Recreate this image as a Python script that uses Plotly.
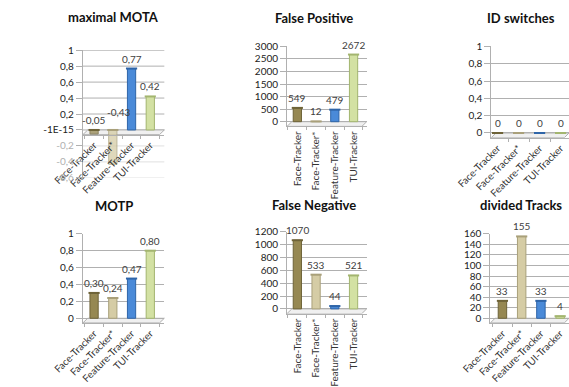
import plotly.graph_objects as go

W, H = 569, 387

# Trackers compared in every panel
categories = ["Face-Tracker", "Face-Tracker*", "Feature-Tracker", "TUI-Tracker"]

# Metric values per tracker
mota = [-0.05, -0.43, 0.77, 0.42]
false_positive = [549, 12, 479, 2672]
id_switches = [0, 0, 0, 0]
motp = [0.30, 0.24, 0.47, 0.80]
false_negative = [1070, 533, 44, 521]
divided_tracks = [33, 155, 33, 4]

# Axis tick values / labels
mota_ticks = [-0.6, -0.4, -0.2, 0, 0.2, 0.4, 0.6, 0.8, 1]
mota_ticktext = ["-0,6", "-0,4", "-0,2", "-1E-15", "0,2", "0,4", "0,6", "0,8", "1"]
unit_ticks = [0, 0.2, 0.4, 0.6, 0.8, 1]
unit_ticktext = ["0", "0,2", "0,4", "0,6", "0,8", "1"]
fp_ticks = [0, 500, 1000, 1500, 2000, 2500, 3000]
fn_ticks = [0, 200, 400, 600, 800, 1000, 1200]
div_ticks = [0, 20, 40, 60, 80, 100, 120, 140, 160]

bar_colors = ["#968852", "#d5cca5", "#4a8ad8", "#d3e1a3"]
edge_colors = ["#6e6338", "#a9a07a", "#2f65a8", "#a3b56f"]

FONT = "Lato, Open Sans, sans-serif"
GRID = "#b0b0b0"
GRID_NEG = "#e0e0e0"
AXIS = "#b0b0b0"
FLOOR_PX = 5


def dec(v):
    return f"{v:.2f}".replace(".", ",")


def px_x(a, b):
    return [a / W, min(b / W, 1.0)]


def px_y(top, bottom):
    return [1 - bottom / H, 1 - top / H]


# ybox = pixel rows of the top tick and of the lowest tick
panels = [
    dict(title="maximal MOTA", values=mota, fmt=dec, ticks=mota_ticks,
         ticktext=mota_ticktext, yrange=[-0.6, 1.0], xbox=(50, 137),
         ybox=(46.7, 182.7), xrange=[-0.6, 3.75], angle=-45, tcenter=(83, 12),
         shifts={1: (6, 8)}),
    dict(title="False Positive", values=false_positive, fmt=str, ticks=fp_ticks,
         ticktext=[str(t) for t in fp_ticks], yrange=[0, 3000], xbox=(268, 353),
         ybox=(42.7, 123), xrange=[-0.55, 3.7], angle=-90, tcenter=(297, 13),
         shifts={}),
    dict(title="ID switches", values=id_switches, fmt=str, ticks=unit_ticks,
         ticktext=unit_ticktext, yrange=[0, 1.0], xbox=(486, 569),
         ybox=(43, 135), xrange=[-0.3, 3.4], angle=-45, tcenter=(518, 13),
         shifts={}),
    dict(title="MOTP", values=motp, fmt=dec, ticks=unit_ticks,
         ticktext=unit_ticktext, yrange=[0, 1.0], xbox=(50, 137),
         ybox=(242, 332), xrange=[-0.6, 3.75], angle=-45, tcenter=(83, 213),
         shifts={}),
    dict(title="False Negative", values=false_negative, fmt=str, ticks=fn_ticks,
         ticktext=[str(t) for t in fn_ticks], yrange=[0, 1200], xbox=(268, 353),
         ybox=(240, 322), xrange=[-0.55, 3.7], angle=-90, tcenter=(297, 212),
         shifts={}),
    dict(title="divided Tracks", values=divided_tracks, fmt=str, ticks=div_ticks,
         ticktext=[str(t) for t in div_ticks], yrange=[0, 160], xbox=(485, 569),
         ybox=(242, 332), xrange=[-0.63, 3.46], angle=-45, tcenter=(518, 212),
         shifts={}),
]

fig = go.Figure()
layout = {}
annotations = []
shapes = []

for i, p in enumerate(panels):
    n = "" if i == 0 else str(i + 1)
    xa, ya = f"x{n}", f"y{n}"
    vals = p["values"]
    lo, hi = p["yrange"]
    top_px, bot_px = p["ybox"]
    per_px = (hi - lo) / (bot_px - top_px)
    floor = FLOOR_PX * per_px
    if lo >= 0:
        # leave room for the floor slab beneath zero
        lo_axis, bot_axis = lo - floor, bot_px + FLOOR_PX
    else:
        lo_axis, bot_axis = lo, bot_px
    ydom = px_y(top_px, bot_axis)

    fig.add_trace(go.Bar(
        x=categories, y=vals, xaxis=xa, yaxis=ya, width=0.44,
        marker=dict(color=bar_colors, line=dict(color=edge_colors, width=1),
                    opacity=[0.75 if v < 0 else 1.0 for v in vals]),
        hoverinfo="skip",
    ))
    # cylinder caps at the bar tops
    fig.add_trace(go.Scatter(
        x=categories, y=[max(v, 0) for v in vals], xaxis=xa, yaxis=ya,
        mode="markers", cliponaxis=False, hoverinfo="skip",
        marker=dict(symbol="line-ew", size=8,
                    line=dict(color=edge_colors, width=2)),
    ))
    # value labels above each bar
    for j, (c, v) in enumerate(zip(categories, vals)):
        dx, dy = p["shifts"].get(j, (0, 0))
        annotations.append(dict(
            text=p["fmt"](v), x=c, y=max(v, 0), xref=xa, yref=ya,
            xanchor="center", yanchor="bottom", showarrow=False,
            xshift=dx, yshift=2 + dy,
            font=dict(family=FONT, size=10, color="#404040"),
        ))

    xaxis = dict(
        domain=px_x(*p["xbox"]), anchor=ya, type="category",
        range=p["xrange"], tickangle=p["angle"], showgrid=False,
        showline=True, linecolor=AXIS, ticks="outside", ticklen=3,
        tickcolor=AXIS, tickson="boundaries", zeroline=False,
        tickfont=dict(family=FONT, size=10, color="#333333"),
    )
    ticktext = list(p["ticktext"])
    if lo < 0:
        # category labels hang from the floor at zero
        xaxis["anchor"] = "free"
        xaxis["position"] = ydom[0] + (-floor - lo) / (hi - lo) * (ydom[1] - ydom[0])
        ticktext = [f'<span style="color:#b0b0b0">{t}</span>' if v < 0 else t
                    for v, t in zip(p["ticks"], ticktext)]
        for v in p["ticks"]:
            shapes.append(dict(
                type="line", xref=f"{xa} domain", yref=ya, x0=0, x1=1,
                y0=v, y1=v, layer="below",
                line=dict(color=GRID_NEG if v < 0 else GRID, width=1),
            ))
    layout[f"xaxis{n}"] = xaxis
    layout[f"yaxis{n}"] = dict(
        domain=ydom, anchor=xa, range=[lo_axis, hi + (hi - lo) * 0.002],
        tickvals=p["ticks"], ticktext=ticktext, showgrid=lo >= 0,
        gridcolor=GRID, gridwidth=1, showline=True, linecolor=AXIS,
        ticks="outside", ticklen=6, tickcolor=AXIS, zeroline=False,
        tickfont=dict(family=FONT, size=10, color="#222222"),
    )
    annotations.append(dict(
        text=f"<b>{p['title']}</b>", x=p["tcenter"][0] / W,
        y=1 - p["tcenter"][1] / H, xref="paper", yref="paper",
        xanchor="center", yanchor="middle", showarrow=False,
        font=dict(family=FONT, size=13, color="#111111"),
    ))
    # slanted floor slab under the bars
    shapes.append(dict(
        type="path", xref=f"{xa} domain", yref=ya, layer="below",
        path=f"M 0,{-floor} L 0.94,{-floor} L 1,0 L 0.06,0 Z",
        fillcolor="#f0f0f0", line=dict(color=AXIS, width=1),
    ))

fig.update_layout(
    width=W, height=H, margin=dict(l=0, r=0, t=0, b=0),
    paper_bgcolor="white", plot_bgcolor="white", showlegend=False,
    bargap=0.5, annotations=annotations, shapes=shapes, **layout,
)

fig.write_html("out.html")
